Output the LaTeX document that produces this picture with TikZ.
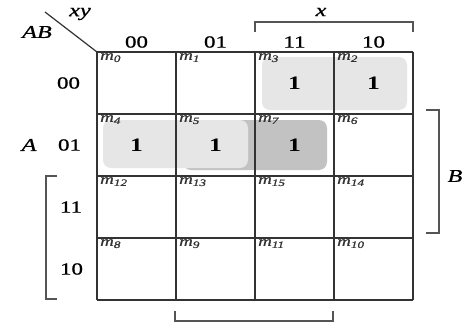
\documentclass[tikz,border=0pt]{standalone}
\usepackage{fontspec}
\setmainfont{Liberation Serif}
\newfontfamily\semib[FakeBold=0.7]{Liberation Serif}
\definecolor{gridc}{HTML}{333333}
\definecolor{brk}{HTML}{555555}
\definecolor{lightg}{HTML}{E6E6E6}
\definecolor{darkg}{HTML}{C2C2C2}
\newcommand{\sx}[1]{\scalebox{1.35}[1]{#1}}
\newcommand{\mlab}[2]{\sx{\itshape #1\textsubscript{#2}}}
\begin{document}
\begin{tikzpicture}[x=1pt,y=-1pt,
  gridline/.style={draw=gridc,line width=1.2pt},
  bracket/.style={draw=brk,line width=1.2pt},
  grp/.style={rounded corners=8pt},
  mtext/.style={anchor=north west,inner sep=0pt,font=\semib\fontsize{14}{14}\selectfont,text=black!80},
  onetext/.style={inner sep=0pt,font=\fontsize{19}{19}\selectfont\bfseries},
  hdr/.style={inner sep=0pt,font=\semib\fontsize{17}{17}\selectfont},
  vartext/.style={inner sep=0pt,font=\semib\fontsize{18}{18}\selectfont\itshape}]
\useasboundingbox (0,0) rectangle (464,327);
\fill[white] (0,0) rectangle (464,327);
% groups
\fill[lightg,grp] (262,57) rectangle (407,110);
\fill[darkg,grp] (183,120) rectangle (327,170);
\fill[lightg,grp] (103,120) rectangle (248,168);
% grid
\foreach \i in {0,...,4} {
  \draw[gridline] (97+79*\i,52) -- (97+79*\i,300);
  \draw[gridline] (97,52+62*\i) -- (413,52+62*\i);
}
% diagonal
\coordinate (d1) at (45,12);
\coordinate (d2) at (97,52);
\draw[gridline] (d1) -- (d2);
\node[vartext] (xy) at (80,14) {\sx{xy}};
\node[vartext] (ab) at (37,32) {\sx{AB}};
% column headers
\node[hdr] (c0) at (136.5,42) {\sx{00}};
\node[hdr] (c1) at (215.5,42) {\sx{01}};
\node[hdr] (c2) at (294.5,42) {\sx{11}};
\node[hdr] (c3) at (373.5,42) {\sx{10}};
% row headers
\node[hdr] (r0) at (68.5,83) {\sx{00}};
\node[hdr] (r1) at (69.5,145) {\sx{01}};
\node[hdr] (r2) at (71,207) {\sx{11}};
\node[hdr] (r3) at (71.5,269) {\sx{10}};
% m labels
\foreach \r/\a/\b/\c/\d in {0/0/1/3/2,1/4/5/7/6,2/12/13/15/14,3/8/9/11/10} {
  \node[mtext] (m\a) at (100,53+62*\r) {\mlab{m}{\a}};
  \node[mtext] (m\b) at (179,53+62*\r) {\mlab{m}{\b}};
  \node[mtext] (m\c) at (258,53+62*\r) {\mlab{m}{\c}};
  \node[mtext] (m\d) at (337,53+62*\r) {\mlab{m}{\d}};
}
% ones
\node[onetext] (o3) at (294.5,83) {\sx{1}};
\node[onetext] (o2) at (373.5,83) {\sx{1}};
\node[onetext] (o4) at (136.5,145) {\sx{1}};
\node[onetext] (o5) at (215.5,145) {\sx{1}};
\node[onetext] (o7) at (294.5,145) {\sx{1}};
% brackets
\draw[bracket] (255,32) -- (255,22) -- (413,22) -- (413,32);
\node[vartext] (xl) at (321,12) {\sx{x}};
\draw[bracket] (426,110) -- (439,110) -- (439,233) -- (426,233);
\node[vartext] (bl) at (455,176) {\sx{B}};
\draw[bracket] (57,176) -- (46,176) -- (46,299) -- (57,299);
\node[vartext] (al) at (29,145) {\sx{A}};
\draw[bracket] (175,311) -- (175,321) -- (333,321) -- (333,311);
\end{tikzpicture}
\end{document}
